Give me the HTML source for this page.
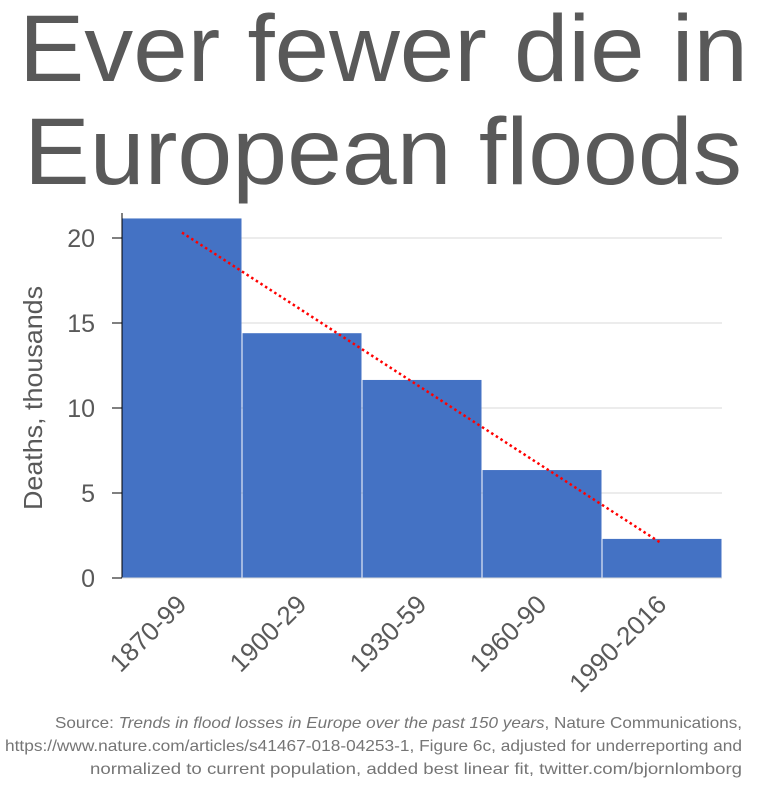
<!DOCTYPE html>
<html><head><meta charset="utf-8"><style>
html,body{margin:0;padding:0;background:#fff;}
svg{display:block;font-family:"Liberation Sans",sans-serif;}
</style></head><body>
<svg id="chart" width="759" height="794" viewBox="0 0 759 794">
<text x="19" y="81" font-size="95" fill="#595959" textLength="729" lengthAdjust="spacingAndGlyphs">Ever fewer die in</text>
<text x="24" y="184" font-size="95" fill="#595959" textLength="718" lengthAdjust="spacingAndGlyphs">European floods</text>
<g id="grid"></g>
<g id="bars"></g>
<g id="trend"></g>
<g id="axes"></g>
<text transform="translate(42,398) rotate(-90)" text-anchor="middle" font-size="26" fill="#595959" textLength="224" lengthAdjust="spacingAndGlyphs">Deaths, thousands</text>
<g font-size="16" fill="#757575">
<text x="55" y="728" textLength="687" lengthAdjust="spacingAndGlyphs">Source: <tspan font-style="italic">Trends in flood losses in Europe over the past 150 years</tspan>, Nature Communications,</text>
<text x="5" y="751" textLength="737" lengthAdjust="spacingAndGlyphs">https://www.nature.com/articles/s41467-018-04253-1, Figure 6c, adjusted for underreporting and</text>
<text x="90" y="774" textLength="652" lengthAdjust="spacingAndGlyphs">normalized to current population, added best linear fit, twitter.com/bjornlomborg</text>
</g>
</svg>
<script>
const categories = ["1870-99","1900-29","1930-59","1960-90","1990-2016"];
const deaths = [21.15, 14.4, 11.65, 6.35, 2.3];
const yTicks = [0, 5, 10, 15, 20];

const NS = "http://www.w3.org/2000/svg";
const x0 = 122, x1 = 722, yBase = 578, yTop = 213;
const yScale = v => yBase - v * 17;
const bandW = (x1 - x0) / categories.length;
const xBand = i => x0 + i * bandW;
function mk(tag, attrs, parent){const e=document.createElementNS(NS,tag);for(const k in attrs)e.setAttribute(k,attrs[k]);parent.appendChild(e);return e;}

const grid = document.getElementById('grid');
const axes = document.getElementById('axes');
yTicks.forEach(t => {
  const y = yScale(t);
  if (t > 0) {
    const g = mk('line',{x1:x0,x2:x1,y1:y,y2:y,stroke:'#d9d9d9','stroke-width':1},grid);
    
    
  }
  const tk = mk('line',{x1:112,x2:x0,y1:y,y2:y,stroke:'#000','stroke-width':1},axes);
  
  
  const lb = mk('text',{x:95,y:y+9,'text-anchor':'end','font-size':25,fill:'#595959'},axes);
  lb.textContent = t;
  
  
});

const bars = document.getElementById('bars');
deaths.forEach((v,i) => {
  const r = mk('rect',{x:xBand(i)+0.5,y:yScale(v),width:bandW-1,height:yBase-yScale(v),fill:'#4472c4'},bars);
  
  
  const cx = xBand(i) + bandW/2;
  const lb = mk('text',{transform:`translate(${cx+6},${yBase+28}) rotate(-45)`,'text-anchor':'end','font-size':26,fill:'#595959'},axes);
  lb.textContent = categories[i];
  
  
});

// best linear fit
const n = deaths.length;
const mx = (n-1)/2, my = deaths.reduce((a,b)=>a+b,0)/n;
let sxy=0,sxx=0;
deaths.forEach((v,i)=>{sxy+=(i-mx)*(v-my);sxx+=(i-mx)*(i-mx);});
const slope = sxy/sxx, icpt = my - slope*mx;
const tl = mk('line',{x1:xBand(0)+bandW/2,y1:yScale(icpt),x2:xBand(n-1)+bandW/2,y2:yScale(icpt+slope*(n-1)),stroke:'#ff0000','stroke-width':2.5,'stroke-dasharray':'2.5 3'},document.getElementById('trend'));



const ya = mk('line',{x1:x0,x2:x0,y1:yTop,y2:yBase,stroke:'#000','stroke-width':1},axes);


const xa = mk('line',{x1:x0,x2:x1,y1:yBase,y2:yBase,stroke:'#d9d9d9','stroke-width':1},axes);


</script>
</body></html>
